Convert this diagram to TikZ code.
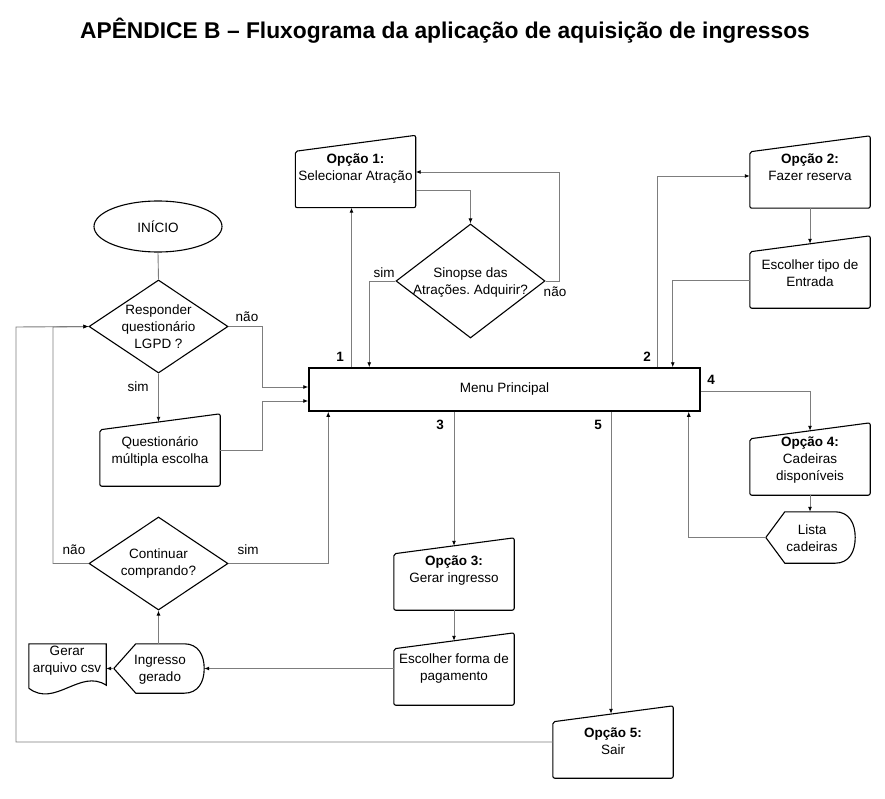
\documentclass[tikz,border=0pt]{standalone}
\usepackage{fontspec}
\setmainfont{Liberation Sans}
\usetikzlibrary{shapes.geometric,arrows.meta,calc}
\definecolor{lncol}{RGB}{125,125,125}
\frenchspacing
\newcommand\mibox[2]{%
  \node[mi] (#1) at (#2) {};
  \draw[shp,rounded corners=2] (#1.south west) -- (#1.south east) -- ([yshift=8]#1.north east) -- ([yshift=-8]#1.north west) -- cycle;
}
\begin{document}
\begin{tikzpicture}[x=1pt,y=-1pt,
  txt/.style={font=\fontsize{13.5}{17}\selectfont,align=center,inner sep=0},
  lbl/.style={font=\fontsize{13.5}{17}\selectfont,inner sep=0},
  num/.style={font=\bfseries\fontsize{13.5}{17}\selectfont,inner sep=0},
  shp/.style={draw=black,line width=1.1pt},
  mi/.style={draw=none,minimum width=120,minimum height=64,inner sep=0},
  dia/.style={diamond,shp,minimum width=139,minimum height=93,inner sep=0},
  conn/.style={draw=lncol,line width=0.9pt,-{Latex[length=5pt,width=4pt,color=black]}},
  plain/.style={draw=lncol,line width=0.9pt}
]
\useasboundingbox (0,0) rectangle (885,799);
\fill[white] (0,0) rectangle (885,799);

% title
\node[font=\bfseries\fontsize{22.8}{26}\selectfont,inner sep=0,anchor=base] (title) at (445,39) {APÊNDICE B – Fluxograma da aplicação de aquisição de ingressos};

% menu
\node[draw=black,line width=1.5pt,minimum width=391,minimum height=43,inner sep=0,txt] (menu) at (504.5,389.5) {Menu Principal};

% manual input boxes
\mibox{o1}{355.5,175.5}
\node[txt] (o1t) at (355.5,169) {\textbf{Opção 1:}\\Selecionar Atração};
\mibox{o2}{810,176}
\node[txt] (o2t) at (810,167.5) {\textbf{Opção 2:}\\Fazer reserva};
\mibox{e2}{810,276}
\node[txt] (e2t) at (810,273.5) {Escolher tipo de\\Entrada};
\mibox{o4}{810,463}
\node[txt] (o4t) at (810,460) {\textbf{Opção 4:}\\Cadeiras\\disponíveis};
\mibox{o3}{454,578}
\node[txt] (o3t) at (454,571) {\textbf{Opção 3:}\\Gerar ingresso};
\mibox{ef}{454,673}
\node[txt] (eft) at (454,668.5) {Escolher forma de\\pagamento};
\mibox{o5}{613,746}
\node[txt] (o5t) at (613,741) {\textbf{Opção 5:}\\Sair};
\mibox{q}{160,454}
\node[txt] (qt) at (160,451.5) {Questionário\\múltipla escolha};

% start
\node[ellipse,shp,minimum width=128,minimum height=51,inner sep=0,txt] (ini) at (158,226.5) {INÍCIO};

% diamonds
\node[dia] (d1) at (158.5,326.5) {};
\node[txt] (d1t) at (158.5,327) {Responder\\questionário\\LGPD ?};
\node[dia] (d2) at (158.5,563.5) {};
\node[txt] (d2t) at (158.5,564) {Continuar\\comprando?};
\node[dia,minimum width=149,minimum height=114] (d3) at (470.5,281) {};
\node[txt] (d3t) at (470.5,282.5) {Sinopse das\\Atrações. Adquirir?};

% display shapes
\node[inner sep=0,minimum width=90,minimum height=49] (ig) at (159,668.5) {};
\draw[shp] (ig.west) -- ($(ig.north west)+(22,0)$) -- ($(ig.north east)+(-20,0)$)
  .. controls ($(ig.north east)+(-6,0)$) and ($(ig.east)+(0,-13.5)$) .. (ig.east)
  .. controls ($(ig.east)+(0,13.5)$) and ($(ig.south east)+(-6,0)$) .. ($(ig.south east)+(-20,0)$)
  -- ($(ig.south west)+(22,0)$) -- cycle;
\node[txt] (igt) at (160,669.5) {Ingresso\\gerado};

\node[inner sep=0,minimum width=89,minimum height=51] (lc) at (810.5,537.5) {};
\draw[shp] (lc.west) -- ($(lc.north west)+(19,0)$) -- ($(lc.north east)+(-20,0)$)
  .. controls ($(lc.north east)+(-6,0)$) and ($(lc.east)+(0,-14)$) .. (lc.east)
  .. controls ($(lc.east)+(0,14)$) and ($(lc.south east)+(-6,0)$) .. ($(lc.south east)+(-20,0)$)
  -- ($(lc.south west)+(19,0)$) -- cycle;
\node[txt] (lct) at (812,538.5) {Lista\\cadeiras};

% document shape
\node[inner sep=0,minimum width=77,minimum height=44] (cs) at (67.5,666) {};
\draw[shp] (cs.south west) -- (cs.north west) -- (cs.north east) -- ($(cs.south east)+(0,-3)$)
  .. controls ($(cs.south east)+(-26,-20)$) and ($(cs.south west)+(26,20)$) .. (cs.south west);
\node[txt] (cst) at (67,661) {Gerar\\arquivo csv};

% bend coordinates
\coordinate (b1) at (262,387);
\coordinate (b2) at (262,401);
\coordinate (L1) at (16,327);
\coordinate (L2) at (53,327);
\coordinate (L4) at (559,172);

% connectors
\draw[plain] (ini.south) -- (d1.north);
\draw[conn] (d1.east) -| (b1) -- (b1 -| menu.west);
\draw[conn] ([yshift=4]q.east) -| (b2) -- (b2 -| menu.west);
\draw[conn] (d1.south) -- (d1.south |- q.north);
\draw[conn] ([yshift=4]o5.west) -| (L1) -- (d1.west);
\draw[conn] (d2.west) -| (L2) -- (d1.west);
\draw[conn] (d2.east) -| ([xshift=20]menu.south west);
\draw[conn] (ig.north -| d2.south) -- (d2.south);
\draw[conn] (ig.west) -- (cs.east |- ig.west);
\draw[conn] (ef.west |- ig.east) -- (ig.east);

\draw[conn] ([xshift=-4]o1.south |- menu.north) -- ([xshift=-4]o1.south);
\draw[conn] ([yshift=-15]o1.east) -| (d3.north);
\draw[conn] (d3.east) -| (L4) -- (L4 -| o1.east);
\draw[conn] (d3.west) -| ([xshift=61]menu.north west);

\draw[conn] ([xshift=-43]menu.north east) |- (o2.west);
\draw[conn] (o2.south) -- (e2.north);
\draw[conn] ([yshift=-4]e2.west) -| ([xshift=-28]menu.north east);
\draw[conn] ([yshift=-1.5]menu.east) -| (o4.north);
\draw[conn] (o4.south) -- (o4.south |- lc.north);
\draw[conn] (lc.west) -| ([xshift=-12]menu.south east);

\draw[conn] (menu.south -| o3.north) -- (o3.north);
\draw[conn] (o3.south) -- (ef.north);
\draw[conn] ([xshift=-2]menu.south -| o5.north) -- ([xshift=-2]o5.north);

% labels
\node[num] (n1) at (340,357) {1};
\node[num] (n2) at (647,357) {2};
\node[num] (n3) at (440,425) {3};
\node[num] (n4) at (711,380) {4};
\node[num] (n5) at (598,425) {5};
\node[lbl] (l1) at (247,317) {não};
\node[lbl] (l2) at (138,387) {sim};
\node[lbl] (l3) at (74,550) {não};
\node[lbl] (l4) at (248,550) {sim};
\node[lbl] (l5) at (384,273) {sim};
\node[lbl] (l6) at (555,292) {não};
\end{tikzpicture}
\end{document}
